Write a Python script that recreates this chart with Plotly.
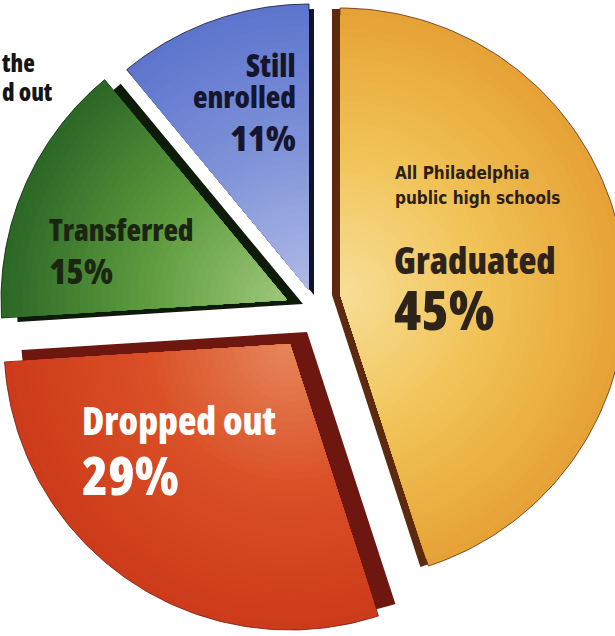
import numpy as np
import plotly.graph_objects as go

# ---------------- data ----------------
labels = ["Graduated", "Dropped out", "Transferred", "Still enrolled"]
values = [45, 29, 15, 11]
pct_labels = ["45%", "29%", "15%", "11%"]
subtitle_lines = ["All Philadelphia", "public high schools"]
cropped_head_lines = ["the", "d out"]

# ---------------- layout / style constants ----------------
W, H = 615, 636
CX, CY, R = 313, 300, 286                       # unexploded pie centre & radius (px space)
EXPLODE = [(27, -6), (-23, 44), (-26, 0), (-4, -10)]   # how far each slice is pulled out (px)
DARK_OFFSET = [(-8, 1), (17, -12), (16, 4), (5, 5)]     # visible "thickness" of each slice
GRADIENT = [                                     # outer -> mid -> inner colours
    ("#E6A236", "#F1C357", "#F7DE96"),
    ("#CC3B1A", "#DA5027", "#E6855A"),
    ("#2C6826", "#5E9B3E", "#9CC778"),
    ("#5E75CE", "#8093D8", "#AEB9E6"),
]
DARK = ["#5C2A0E", "#6E1710", "#0E1A0A", "#11132A"]
FONT_COND = "Open Sans, DejaVu Sans Condensed, sans-serif"
FONT_SMALL = "DejaVu Sans Condensed, Open Sans, sans-serif"


def hex2rgb(h):
    h = h.lstrip("#")
    return np.array([int(h[i:i + 2], 16) for i in (0, 2, 4)], dtype=float)


def mix(stops, t):
    c = [hex2rgb(s) for s in stops]
    if t <= 0.5:
        u = t / 0.5
        v = c[0] * (1 - u) + c[1] * u
    else:
        u = (t - 0.5) / 0.5
        v = c[1] * (1 - u) + c[2] * u
    return "rgb(%d,%d,%d)" % tuple(np.round(v))


def wedge(cx, cy, r, a0, a1, n=120):
    th = np.radians(np.linspace(a0, a1, n))
    xs = np.concatenate([[cx], cx + r * np.sin(th), [cx]])
    ys = np.concatenate([[cy], cy - r * np.cos(th), [cy]])
    return xs, ys


total = float(sum(values))
cum = np.cumsum([0] + values)
a_start = cum[:-1] / total * 360.0
a_end = cum[1:] / total * 360.0

centres = [(CX + ex, CY + ey) for ex, ey in EXPLODE]

fig = go.Figure()

# dark "thickness" layers
for i in range(len(values)):
    cx, cy = centres[i]
    dx, dy = DARK_OFFSET[i]
    xs, ys = wedge(cx + dx, cy + dy, R, a_start[i], a_end[i])
    fig.add_trace(go.Scatter(x=xs, y=ys, mode="lines", fill="toself",
                             fillcolor=DARK[i], line=dict(width=0, color=DARK[i]),
                             hoverinfo="skip", showlegend=False))

# coloured slice faces with radial shading
NB = 40
for i in range(len(values)):
    cx, cy = centres[i]
    for k in range(NB):
        r = R * (1 - k / NB)
        t = k / (NB - 1)
        col = mix(GRADIENT[i], t)
        xs, ys = wedge(cx, cy, r, a_start[i], a_end[i])
        fig.add_trace(go.Scatter(
            x=xs, y=ys, mode="lines", fill="toself", fillcolor=col,
            line=dict(width=0.8 if k == 0 else 0, color=DARK[i] if k == 0 else col),
            hoverinfo="skip", showlegend=False, name=labels[i]))

annots = []


def txt(text, x, y, size, color, xanchor="left", family=FONT_COND,
        stretch="75%", weight=800, height=None):
    if stretch:
        text = '<span style="font-stretch:%s">%s</span>' % (stretch, text)
    a = dict(text=text, x=x, y=y, xref="x", yref="y", showarrow=False,
             xanchor=xanchor, yanchor="middle", valign="middle",
             font=dict(family=family, size=size, color=color, weight=weight))
    if height:
        a["height"] = height
    annots.append(a)


# cropped headline text at top-left
txt(cropped_head_lines[0], 0, 62, 24, "#151515", height=25)
txt(cropped_head_lines[1], 0, 91, 24, "#151515", height=25)

# Still enrolled
se = labels[3].split(" ")
txt(se[0], 298, 64, 31, "#15162E", "right", height=31)
txt(se[1], 298, 96, 30, "#15162E", "right", height=30)
txt(pct_labels[3], 298, 137, 36, "#15162E", "right", height=36)

# Transferred
txt(labels[2], 47, 229, 30, "#1B2612", height=32)
txt(pct_labels[2], 47, 270, 35, "#1B2612", height=36)

# Graduated
txt(subtitle_lines[0], 393, 173, 17, "#2A2016", family=FONT_SMALL, stretch=None, weight=700)
txt(subtitle_lines[1], 393, 198, 17, "#2A2016", family=FONT_SMALL, stretch=None, weight=700)
txt(labels[0], 392, 259, 37, "#2E2318", height=36)
txt(pct_labels[0], 392, 308, 55, "#2E2318", height=52)

# Dropped out
txt(labels[1], 80, 420, 38, "#FFFFFF", height=48)
txt(pct_labels[1], 80, 474, 53, "#FFFFFF", height=48)

fig.update_layout(
    width=W, height=H, autosize=False,
    margin=dict(l=0, r=0, t=0, b=0),
    paper_bgcolor="#FFFFFF", plot_bgcolor="#FFFFFF",
    xaxis=dict(range=[0, W], visible=False, fixedrange=True),
    yaxis=dict(range=[H, 0], visible=False, fixedrange=True),
    annotations=annots,
    showlegend=False,
)

fig.write_html("out.html", config={"displayModeBar": False},
               post_script="document.body.style.margin='0';")
